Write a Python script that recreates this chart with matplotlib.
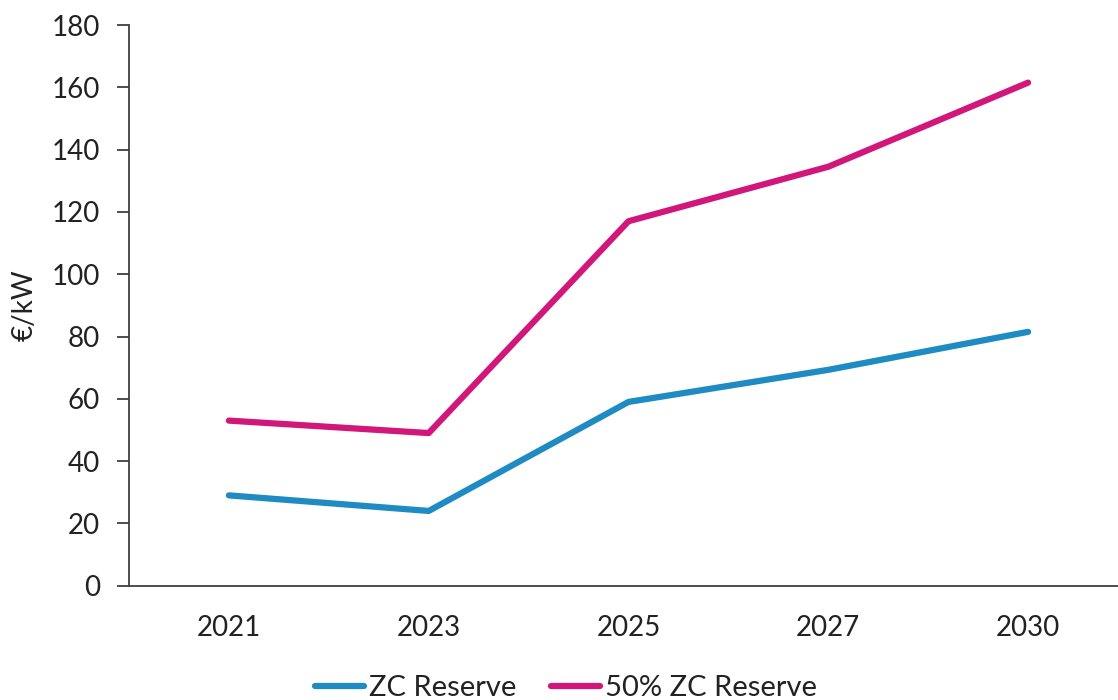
import matplotlib
matplotlib.use("Agg")
from matplotlib import pyplot as plt

years = ["2021", "2023", "2025", "2027", "2030"]
zc_reserve = [29, 24, 59, 69.3, 81.5]
zc_reserve_50 = [53, 49, 117, 134.5, 161.5]

blue = "#1f8bc3"
magenta = "#d1177a"

plt.rcParams['font.family'] = ['Lato', 'DejaVu Sans']

fig = plt.figure(figsize=(11.18, 7), dpi=100)
ax = fig.add_axes([129 / 1118, 1 - 585.7 / 700, 1 - 129 / 1118, (585.7 - 25) / 700])

x = range(len(years))
ax.plot(x, zc_reserve, color=blue, lw=4.5, solid_capstyle="round", label="ZC Reserve")
ax.plot(x, zc_reserve_50, color=magenta, lw=4.5, solid_capstyle="round", label="50% ZC Reserve")

ax.set_xlim(-0.5, 4.45)
ax.set_ylim(0, 180)
ax.set_yticks(range(0, 181, 20))
ax.set_xticks(list(x))
ax.set_xticklabels(years)

for s in ["top", "right"]:
    ax.spines[s].set_visible(False)
for s in ["left", "bottom"]:
    ax.spines[s].set_color("#404040")
    ax.spines[s].set_linewidth(1.3)

ax.tick_params(axis="y", length=9, width=1.3, color="#404040", labelsize=20, pad=12, labelcolor="#222222")
ax.tick_params(axis="x", length=0, labelsize=20, pad=21, labelcolor="#222222")

ax.set_ylabel("€/kW", fontsize=20, color="#222222", labelpad=10)

fig.legend(loc="center", bbox_to_anchor=(0.506, 12 / 700), ncol=2, frameon=False,
           fontsize=21, handlelength=1.7, handletextpad=0.15, columnspacing=1.2,
           labelcolor="#222222")

fig.savefig("out.png", dpi=100)
